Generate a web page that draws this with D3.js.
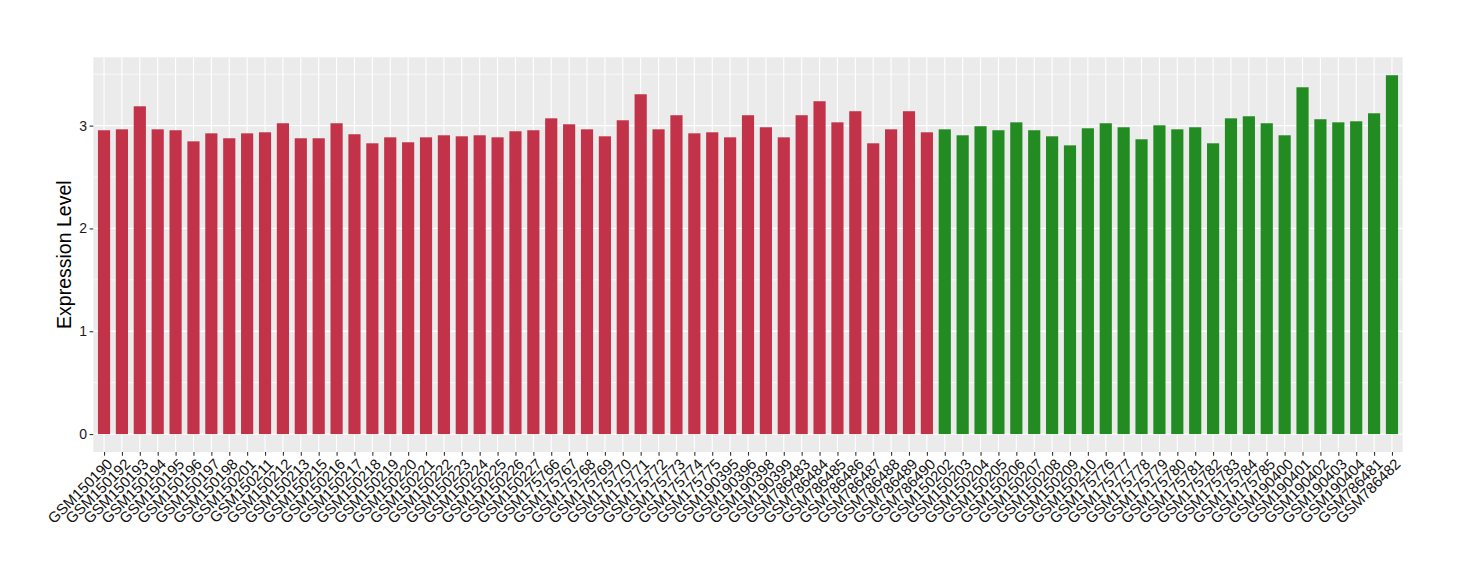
<!DOCTYPE html>
<html>
<head>
<meta charset="utf-8">
<script src="https://cdn.jsdelivr.net/npm/d3@7/dist/d3.min.js"></script>
<style>
  html, body { margin: 0; padding: 0; background: #fff; }
  svg { display: block; font-family: "Liberation Sans", Arial, Helvetica, sans-serif; }
</style>
</head>
<body>
<svg id="chart" width="1460" height="580"></svg>
<script>
const samples = [
  "GSM150190","GSM150192","GSM150193","GSM150194","GSM150195","GSM150196","GSM150197","GSM150198",
  "GSM150201","GSM150211","GSM150212","GSM150213","GSM150215","GSM150216","GSM150217","GSM150218",
  "GSM150219","GSM150220","GSM150221","GSM150222","GSM150223","GSM150224","GSM150225","GSM150226",
  "GSM150227","GSM175766","GSM175767","GSM175768","GSM175769","GSM175770","GSM175771","GSM175772",
  "GSM175773","GSM175774","GSM175775","GSM190395","GSM190396","GSM190398","GSM190399","GSM786483",
  "GSM786484","GSM786485","GSM786486","GSM786487","GSM786488","GSM786489","GSM786490",
  "GSM150202","GSM150203","GSM150204","GSM150205","GSM150206","GSM150207","GSM150208","GSM150209",
  "GSM150210","GSM175776","GSM175777","GSM175778","GSM175779","GSM175780","GSM175781","GSM175782",
  "GSM175783","GSM175784","GSM175785","GSM190400","GSM190401","GSM190402","GSM190403","GSM190404",
  "GSM786481","GSM786482"
];
const values = [
  2.955, 2.964, 3.188, 2.964, 2.955, 2.847, 2.925, 2.877,
  2.925, 2.935, 3.023, 2.877, 2.877, 3.023, 2.916, 2.828,
  2.886, 2.838, 2.886, 2.906, 2.896, 2.906, 2.886, 2.945,
  2.955, 3.071, 3.013, 2.964, 2.896, 3.052, 3.305, 2.964,
  3.101, 2.925, 2.935, 2.886, 3.101, 2.984, 2.886, 3.101,
  3.237, 3.032, 3.140, 2.828, 2.964, 3.140, 2.935,
  2.964, 2.906, 2.994, 2.955, 3.032, 2.955, 2.896, 2.808,
  2.974, 3.023, 2.984, 2.867, 3.003, 2.964, 2.984, 2.828,
  3.071, 3.091, 3.023, 2.906, 3.373, 3.062, 3.032, 3.042,
  3.120, 3.490
];
const groups = [
  ...Array(47).fill("A"),
  ...Array(26).fill("B")
];
const groupColors = { A: "#C23248", B: "#228B22" };
const yTicks = [0, 1, 2, 3];
const yMinor = [0.5, 1.5, 2.5, 3.5];
const yTitle = "Expression Level";

const svg = d3.select("#chart");
const panel = { left: 93.3, right: 1402.7, top: 57.3, bottom: 452 };

const maxV = d3.max(values);
const x = d3.scalePoint().domain(samples).range([panel.left, panel.right]).padding(0.6);
const step = x.step();
const y = d3.scaleLinear().domain([-0.05 * maxV, maxV * 1.05]).range([panel.bottom, panel.top]);

// panel background
svg.append("rect")
  .attr("x", panel.left).attr("y", panel.top)
  .attr("width", panel.right - panel.left).attr("height", panel.bottom - panel.top)
  .attr("fill", "#EBEBEB");

const grid = svg.append("g");
grid.selectAll("line.minor").data(yMinor).join("line")
  .attr("x1", panel.left).attr("x2", panel.right)
  .attr("y1", d => y(d)).attr("y2", d => y(d))
  .attr("stroke", "#fff").attr("stroke-width", 0.7);
grid.selectAll("line.majy").data(yTicks).join("line")
  .attr("x1", panel.left).attr("x2", panel.right)
  .attr("y1", d => y(d)).attr("y2", d => y(d))
  .attr("stroke", "#fff").attr("stroke-width", 1.3);
grid.selectAll("line.majx").data(samples).join("line")
  .attr("x1", d => x(d)).attr("x2", d => x(d))
  .attr("y1", panel.top).attr("y2", panel.bottom)
  .attr("stroke", "#fff").attr("stroke-width", 1.1);

// bars
const bw = step * 0.68;
svg.append("g").selectAll("rect").data(samples).join("rect")
  .attr("x", (d) => x(d) - bw / 2)
  .attr("width", bw)
  .attr("y", (d, i) => y(values[i]))
  .attr("height", (d, i) => y(0) - y(values[i]))
  .attr("fill", (d, i) => groupColors[groups[i]]);

// y axis
const yAxis = svg.append("g")
  .attr("transform", `translate(${panel.left},0)`)
  .call(d3.axisLeft(y).tickValues(yTicks).tickFormat(d3.format("d")).tickSize(3.7).tickPadding(2.5));
yAxis.select(".domain").remove();
yAxis.selectAll(".tick line").attr("stroke", "#333").attr("stroke-width", 1.1);
yAxis.selectAll(".tick text").attr("fill", "#1a1a1a").style("font-size", "14px")
  .style("font-family", '"Liberation Sans", Arial, sans-serif');

// x axis
const xAxis = svg.append("g")
  .attr("transform", `translate(0,${panel.bottom})`)
  .call(d3.axisBottom(x).tickSize(3.7).tickPadding(2));
xAxis.select(".domain").remove();
xAxis.selectAll(".tick line").attr("stroke", "#333").attr("stroke-width", 1.1);
xAxis.selectAll(".tick text")
  .attr("fill", "#111")
  .style("font-size", "15px")
  .style("font-family", '"Liberation Sans", Arial, sans-serif')
  .attr("text-anchor", "end")
  .attr("dy", null)
  .attr("y", null)
  .attr("transform", "translate(9,13) rotate(-45)");

// y title
svg.append("text")
  .attr("transform", `translate(71,${(panel.top + panel.bottom) / 2}) rotate(-90)`)
  .attr("text-anchor", "middle")
  .style("font-size", "19.5px")
  .attr("fill", "#000")
  .text(yTitle);
</script>
</body>
</html>
